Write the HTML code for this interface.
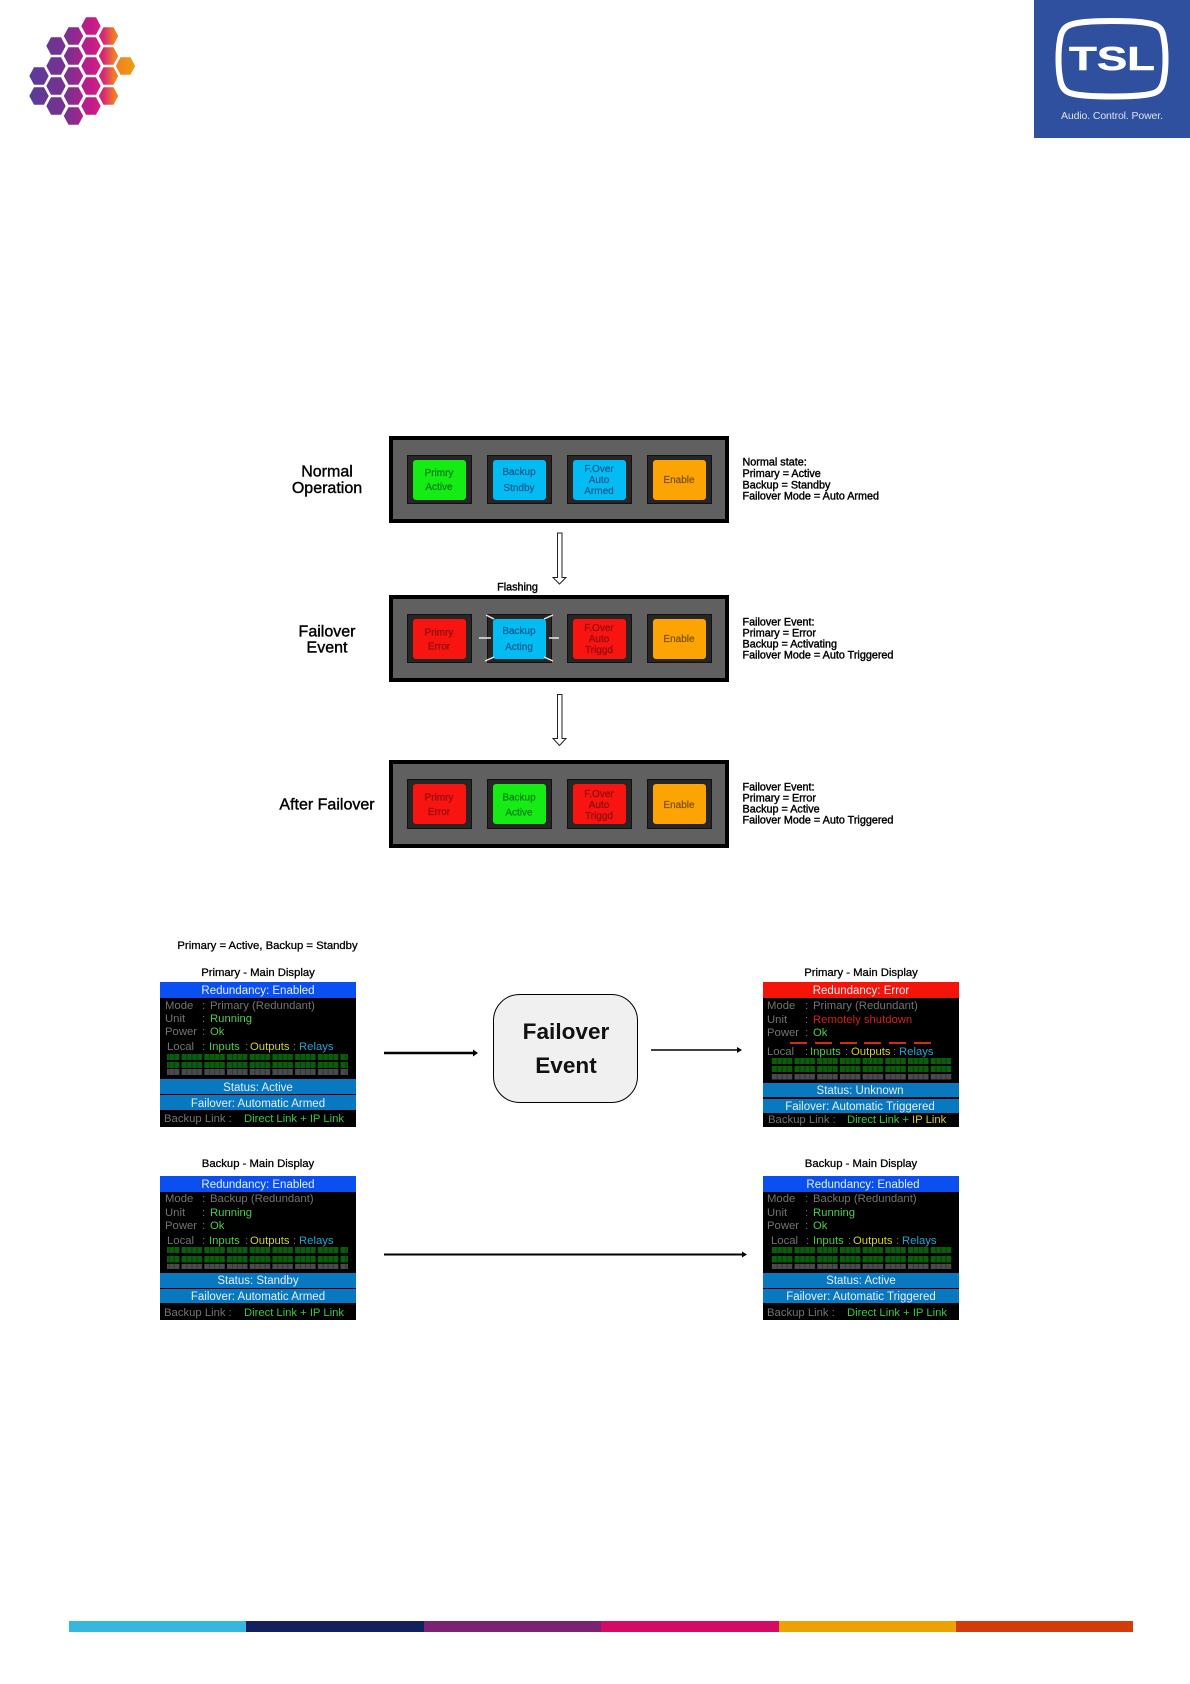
<!DOCTYPE html>
<html lang="en">
<head>
<meta charset="utf-8">
<title>Failover Diagram</title>
<style>
html,body{margin:0;padding:0;background:#fff;width:1190px;height:1684px;overflow:hidden}
svg{display:block;filter:blur(.35px)}
text{font-family:"Liberation Sans",Arial,sans-serif}
.lbl{font-size:16px;fill:#000;stroke:#000;stroke-width:.4px;text-anchor:middle}
.note{font-size:10.8px;fill:#000;stroke:#000;stroke-width:.4px}
.ttl{font-size:11.3px;fill:#000;stroke:#000;stroke-width:.3px;text-anchor:middle}
.b{font-size:10px;text-anchor:middle;stroke-width:.2px}
.bg{fill:#087a16;stroke:#087a16}.bb{fill:#10588a;stroke:#10588a}.br{fill:#8c0e0e;stroke:#8c0e0e}.bo{fill:#7c5008;stroke:#7c5008}
.d{font-size:11.3px}
.g{fill:#747474}.v{fill:#4ccc4c}.y{fill:#d0d028}.c{fill:#28a4d0}.r{fill:#d02020}
.w{fill:#e6eef8;text-anchor:middle;font-size:11.5px}
</style>
</head>
<body>
<svg width="1190" height="1684" viewBox="0 0 1190 1684" xmlns="http://www.w3.org/2000/svg">
<defs>
<linearGradient id="hx" gradientUnits="userSpaceOnUse" x1="30" y1="0" x2="135" y2="0">
<stop offset="0" stop-color="#5a3c9a"/><stop offset=".35" stop-color="#7a3090"/><stop offset=".6" stop-color="#c81a88"/><stop offset=".7" stop-color="#d42a78"/><stop offset=".8" stop-color="#f07a28"/><stop offset="1" stop-color="#eca010"/>
</linearGradient>
<polygon id="h" points="-9.7,0 -5,-8.8 5,-8.8 9.7,0 5,8.8 -5,8.8"/>
<clipPath id="hc">
<use href="#h" x="91" y="26"/><use href="#h" x="73.5" y="36"/><use href="#h" x="108.5" y="36"/>
<use href="#h" x="56" y="46"/><use href="#h" x="91" y="46"/><use href="#h" x="73.5" y="56"/>
<use href="#h" x="108.5" y="56"/><use href="#h" x="125.5" y="66"/><use href="#h" x="56" y="66"/>
<use href="#h" x="91" y="66"/><use href="#h" x="73.5" y="76"/><use href="#h" x="108.5" y="76"/>
<use href="#h" x="39" y="76"/><use href="#h" x="56" y="86"/><use href="#h" x="91" y="86"/>
<use href="#h" x="39" y="96"/><use href="#h" x="73.5" y="96"/><use href="#h" x="108.5" y="96"/>
<use href="#h" x="56" y="106"/><use href="#h" x="91" y="106"/><use href="#h" x="73.5" y="116"/>
</clipPath>
<pattern id="ledG" patternUnits="userSpaceOnUse" width="22.7" height="6">
<rect width="20.5" height="6" fill="#0b5c0b"/>
<rect x="5" width=".7" height="6" fill="#043004"/><rect x="10" width=".7" height="6" fill="#043004"/><rect x="15" width=".7" height="6" fill="#043004"/>
</pattern>
<pattern id="ledK" patternUnits="userSpaceOnUse" width="22.7" height="6">
<rect width="20.5" height="6" fill="#4a4a4a"/>
<rect x="5" width=".7" height="6" fill="#2a2a2a"/><rect x="10" width=".7" height="6" fill="#2a2a2a"/><rect x="15" width=".7" height="6" fill="#2a2a2a"/>
</pattern>
</defs>

<!-- hex logo -->
<rect x="25" y="10" width="115" height="120" fill="url(#hx)" clip-path="url(#hc)"/>

<!-- TSL logo -->
<rect x="1034" y="0" width="156" height="138" fill="#2f4f9f"/>
<path d="M1112,21 C1130,21 1148,22 1155,25 C1161,27 1163,32 1164,40 C1166,50 1166,68 1164,78 C1163,86 1160,91 1154,93 C1145,96 1130,96.5 1112,96.5 C1094,96.5 1079,96 1070,93 C1064,91 1061,86 1060,78 C1058,68 1058,50 1060,40 C1061,32 1064,27 1070,25 C1077,22 1094,21 1112,21 Z" fill="none" stroke="#fff" stroke-width="6"/>
<text x="1069" y="70" font-size="33" font-weight="bold" fill="#fff" stroke="#fff" stroke-width=".5" textLength="86" lengthAdjust="spacingAndGlyphs">TSL</text>
<text x="1112" y="119" font-size="10.5" fill="#dde2ee" text-anchor="middle" textLength="102">Audio. Control. Power.</text>

<!-- left labels -->
<text class="lbl" x="327" y="476.5">Normal</text>
<text class="lbl" x="327" y="493">Operation</text>
<text class="lbl" x="327" y="636.5">Failover</text>
<text class="lbl" x="327" y="652.5">Event</text>
<text class="lbl" x="327" y="809.5">After Failover</text>

<!-- panels -->
<g fill="#606060" stroke="#000" stroke-width="4">
<rect x="391" y="438" width="336" height="83"/>
<rect x="391" y="597" width="336" height="83"/>
<rect x="391" y="762" width="336" height="84"/>
</g>

<g fill="#262626" stroke="#111" stroke-width="1">
<rect x="407.5" y="455.5" width="64" height="48"/><rect x="487.5" y="455.5" width="64" height="48"/>
<rect x="567.5" y="455.5" width="64" height="48"/><rect x="647.5" y="455.5" width="64" height="48"/>
<rect x="407.5" y="614.5" width="64" height="48"/><rect x="487.5" y="614.5" width="64" height="48"/>
<rect x="567.5" y="614.5" width="64" height="48"/><rect x="647.5" y="614.5" width="64" height="48"/>
<rect x="407.5" y="779.5" width="64" height="49"/><rect x="487.5" y="779.5" width="64" height="49"/>
<rect x="567.5" y="779.5" width="64" height="49"/><rect x="647.5" y="779.5" width="64" height="49"/>
</g>

<!-- Panel 1 -->
<rect x="413" y="460" width="53" height="40" rx="3" fill="#14ec14"/>
<rect x="493" y="460" width="53" height="40" rx="3" fill="#04bcf4"/>
<rect x="573" y="460" width="53" height="40" rx="3" fill="#04bcf4"/>
<rect x="653" y="460" width="53" height="40" rx="3" fill="#fca404"/>
<text class="b bg" x="439" y="476">Primry</text><text class="b bg" x="439" y="490">Active</text>
<text class="b bb" x="519" y="475">Backup</text><text class="b bb" x="519" y="491">Stndby</text>
<text class="b bb" x="599" y="472">F.Over</text><text class="b bb" x="599" y="483">Auto</text><text class="b bb" x="599" y="494">Armed</text>
<text class="b bo" x="679" y="483">Enable</text>

<!-- Panel 2 -->
<rect x="413" y="619" width="53" height="40" rx="3" fill="#f81410"/>
<rect x="493" y="619" width="53" height="40" rx="3" fill="#04bcf4"/>
<rect x="573" y="619" width="53" height="40" rx="3" fill="#f81410"/>
<rect x="653" y="619" width="53" height="40" rx="3" fill="#fca404"/>
<text class="b br" x="439" y="635.5">Primry</text><text class="b br" x="439" y="649.5">Error</text>
<text class="b bb" x="519" y="634">Backup</text><text class="b bb" x="519" y="650">Acting</text>
<text class="b br" x="599" y="631">F.Over</text><text class="b br" x="599" y="642">Auto</text><text class="b br" x="599" y="653">Triggd</text>
<text class="b bo" x="679" y="642">Enable</text>
<g stroke="#e8e8e8" stroke-width="1.5">
<line x1="486" y1="615" x2="494" y2="619"/><line x1="544" y1="619" x2="553" y2="615"/>
<line x1="485" y1="661" x2="494" y2="657"/><line x1="544" y1="657" x2="553" y2="661"/>
<line x1="479" y1="638" x2="491" y2="638"/><line x1="549" y1="638" x2="559" y2="638"/>
</g>

<!-- Panel 3 -->
<rect x="413" y="784" width="53" height="40" rx="3" fill="#f81410"/>
<rect x="493" y="784" width="53" height="40" rx="3" fill="#14ec14"/>
<rect x="573" y="784" width="53" height="40" rx="3" fill="#f81410"/>
<rect x="653" y="784" width="53" height="40" rx="3" fill="#fca404"/>
<text class="b br" x="439" y="800.5">Primry</text><text class="b br" x="439" y="815">Error</text>
<text class="b bg" x="519" y="800.5">Backup</text><text class="b bg" x="519" y="815.5">Active</text>
<text class="b br" x="599" y="797">F.Over</text><text class="b br" x="599" y="808">Auto</text><text class="b br" x="599" y="819">Triggd</text>
<text class="b bo" x="679" y="808">Enable</text>

<!-- hollow arrows -->
<path d="M557.5,533 H562 V577.5 H566 L559.5,584 L553,577.5 H557.5 Z" fill="#fff" stroke="#222" stroke-width="1"/>
<path d="M557.5,694.5 H562 V738.5 H566 L559.5,745.5 L553,738.5 H557.5 Z" fill="#fff" stroke="#222" stroke-width="1"/>

<text class="note" x="517.5" y="590.5" text-anchor="middle">Flashing</text>

<!-- notes -->
<text class="note" x="742.5" y="465.5">Normal state:</text>
<text class="note" x="742.5" y="477">Primary = Active</text>
<text class="note" x="742.5" y="488.5">Backup = Standby</text>
<text class="note" x="742.5" y="499.5">Failover Mode = Auto Armed</text>
<text class="note" x="742.5" y="625.5">Failover Event:</text>
<text class="note" x="742.5" y="636.5">Primary = Error</text>
<text class="note" x="742.5" y="647.5">Backup = Activating</text>
<text class="note" x="742.5" y="658.5">Failover Mode = Auto Triggered</text>
<text class="note" x="742.5" y="790.5">Failover Event:</text>
<text class="note" x="742.5" y="801.5">Primary = Error</text>
<text class="note" x="742.5" y="812.5">Backup = Active</text>
<text class="note" x="742.5" y="823.5">Failover Mode = Auto Triggered</text>

<!-- Titles -->
<text class="ttl" x="267.5" y="949">Primary = Active, Backup = Standby</text>
<text class="ttl" x="258" y="976">Primary - Main Display</text>
<text class="ttl" x="861" y="976">Primary - Main Display</text>
<text class="ttl" x="258" y="1167">Backup - Main Display</text>
<text class="ttl" x="861" y="1167">Backup - Main Display</text>

<!-- Display A -->
<rect x="160" y="982" width="196" height="145" fill="#000"/>
<rect x="160" y="982" width="196" height="16" fill="#0a50f0"/>
<text class="w" x="258" y="994">Redundancy: Enabled</text>
<text class="d g" x="165" y="1009">Mode</text><text class="d g" x="202" y="1009">:</text><text class="d g" x="210" y="1009">Primary (Redundant)</text>
<text class="d g" x="165" y="1022">Unit</text><text class="d g" x="202" y="1022">:</text><text class="d v" x="210" y="1022">Running</text>
<text class="d g" x="165" y="1035">Power</text><text class="d g" x="202" y="1035">:</text><text class="d v" x="210" y="1035">Ok</text>
<text class="d g" x="167" y="1050">Local</text><text class="d g" x="202" y="1050">:</text><text class="d v" x="209" y="1050">Inputs</text><text class="d g" x="245" y="1050">:</text><text class="d y" x="250" y="1050">Outputs</text><text class="d g" x="293" y="1050">:</text><text class="d c" x="299" y="1050">Relays</text>
<rect x="167" y="1054" width="181" height="6" fill="url(#ledG)"/>
<rect x="167" y="1062" width="181" height="6" fill="url(#ledG)"/>
<rect x="167" y="1069" width="181" height="6" fill="url(#ledK)"/>
<rect x="160" y="1079" width="196" height="15" fill="#0878c0"/>
<rect x="160" y="1095" width="196" height="15" fill="#0878c0"/>
<text class="w" x="258" y="1091">Status: Active</text>
<text class="w" x="258" y="1107">Failover: Automatic Armed</text>
<text class="d g" x="164" y="1122">Backup Link :</text><text class="d" fill="#38c848" x="244" y="1122" textLength="100">Direct Link + IP Link</text>

<!-- Display B -->
<rect x="763" y="982" width="196" height="145" fill="#000"/>
<rect x="763" y="982" width="196" height="16" fill="#f41408"/>
<text class="w" x="861" y="994">Redundancy: Error</text>
<text class="d g" x="767" y="1009">Mode</text><text class="d g" x="805" y="1009">:</text><text class="d g" x="813" y="1009">Primary (Redundant)</text>
<text class="d g" x="767" y="1023">Unit</text><text class="d g" x="805" y="1023">:</text><text class="d r" x="813" y="1023">Remotely shutdown</text>
<text class="d g" x="767" y="1036">Power</text><text class="d g" x="805" y="1036">:</text><text class="d v" x="813" y="1036">Ok</text>
<g fill="#d82a10">
<rect x="790" y="1042" width="17" height="2"/><rect x="815" y="1042" width="17" height="2"/><rect x="840" y="1042" width="17" height="2"/>
<rect x="864" y="1042" width="17" height="2"/><rect x="889" y="1042" width="17" height="2"/><rect x="914" y="1042" width="17" height="2"/>
</g>
<text class="d g" x="767" y="1055">Local</text><text class="d g" x="805" y="1055">:</text><text class="d v" x="810" y="1055">Inputs</text><text class="d g" x="845" y="1055">:</text><text class="d y" x="851" y="1055">Outputs</text><text class="d g" x="893" y="1055">:</text><text class="d c" x="899" y="1055">Relays</text>
<rect x="771" y="1058" width="181" height="6" fill="url(#ledG)"/>
<rect x="771" y="1066" width="181" height="6" fill="url(#ledG)"/>
<rect x="771" y="1074" width="181" height="5.5" fill="url(#ledK)"/>
<rect x="763" y="1083" width="196" height="14" fill="#0878c0"/>
<rect x="763" y="1099" width="196" height="14" fill="#0878c0"/>
<text class="w" x="860" y="1094">Status: Unknown</text>
<text class="w" x="860" y="1110">Failover: Automatic Triggered</text>
<text class="d g" x="768" y="1123">Backup Link :</text><text class="d" fill="#38c848" x="847" y="1123" textLength="62">Direct Link +</text><text class="d y" x="912" y="1123">IP Link</text>

<!-- Display C -->
<rect x="160" y="1176" width="196" height="144" fill="#000"/>
<rect x="160" y="1176" width="196" height="16" fill="#0a50f0"/>
<text class="w" x="258" y="1188">Redundancy: Enabled</text>
<text class="d g" x="165" y="1202">Mode</text><text class="d g" x="202" y="1202">:</text><text class="d g" x="210" y="1202">Backup (Redundant)</text>
<text class="d g" x="165" y="1216">Unit</text><text class="d g" x="202" y="1216">:</text><text class="d v" x="210" y="1216">Running</text>
<text class="d g" x="165" y="1229">Power</text><text class="d g" x="202" y="1229">:</text><text class="d v" x="210" y="1229">Ok</text>
<text class="d g" x="167" y="1244">Local</text><text class="d g" x="202" y="1244">:</text><text class="d v" x="209" y="1244">Inputs</text><text class="d g" x="245" y="1244">:</text><text class="d y" x="250" y="1244">Outputs</text><text class="d g" x="293" y="1244">:</text><text class="d c" x="299" y="1244">Relays</text>
<rect x="167" y="1247" width="181" height="6" fill="url(#ledG)"/>
<rect x="167" y="1256" width="181" height="6.5" fill="url(#ledG)"/>
<rect x="167" y="1264" width="181" height="5" fill="url(#ledK)"/>
<rect x="160" y="1273" width="196" height="15" fill="#0878c0"/>
<rect x="160" y="1289" width="196" height="14" fill="#0878c0"/>
<text class="w" x="258" y="1284">Status: Standby</text>
<text class="w" x="258" y="1300">Failover: Automatic Armed</text>
<text class="d g" x="164" y="1316">Backup Link :</text><text class="d" fill="#38c848" x="244" y="1316" textLength="100">Direct Link + IP Link</text>

<!-- Display D -->
<rect x="763" y="1176" width="196" height="144" fill="#000"/>
<rect x="763" y="1176" width="196" height="16" fill="#0a50f0"/>
<text class="w" x="863" y="1188">Redundancy: Enabled</text>
<text class="d g" x="767" y="1202">Mode</text><text class="d g" x="805" y="1202">:</text><text class="d g" x="813" y="1202">Backup (Redundant)</text>
<text class="d g" x="767" y="1216">Unit</text><text class="d g" x="805" y="1216">:</text><text class="d v" x="813" y="1216">Running</text>
<text class="d g" x="767" y="1229">Power</text><text class="d g" x="805" y="1229">:</text><text class="d v" x="813" y="1229">Ok</text>
<text class="d g" x="771" y="1244">Local</text><text class="d g" x="806" y="1244">:</text><text class="d v" x="813" y="1244">Inputs</text><text class="d g" x="848" y="1244">:</text><text class="d y" x="853" y="1244">Outputs</text><text class="d g" x="896" y="1244">:</text><text class="d c" x="902" y="1244">Relays</text>
<rect x="771" y="1247" width="181" height="6" fill="url(#ledG)"/>
<rect x="771" y="1256" width="181" height="6.5" fill="url(#ledG)"/>
<rect x="771" y="1264" width="181" height="5" fill="url(#ledK)"/>
<rect x="763" y="1273" width="196" height="15" fill="#0878c0"/>
<rect x="763" y="1289" width="196" height="14" fill="#0878c0"/>
<text class="w" x="861" y="1284">Status: Active</text>
<text class="w" x="861" y="1300">Failover: Automatic Triggered</text>
<text class="d g" x="767" y="1316">Backup Link :</text><text class="d" fill="#38c848" x="847" y="1316" textLength="100">Direct Link + IP Link</text>

<!-- Failover Event box -->
<rect x="493.5" y="994.5" width="144" height="108" rx="26" fill="#f0f0f0" stroke="#000" stroke-width="1"/>
<text x="566" y="1039" font-size="22.6" font-weight="bold" fill="#111" text-anchor="middle">Failover</text>
<text x="566" y="1073" font-size="22.6" font-weight="bold" fill="#111" text-anchor="middle">Event</text>

<!-- arrows -->
<line x1="384" y1="1053" x2="474" y2="1053" stroke="#000" stroke-width="2.5"/>
<polygon points="473,1049.5 478,1053 473,1056.5" fill="#000"/>
<line x1="651" y1="1050" x2="738" y2="1050" stroke="#000" stroke-width="1.5"/>
<polygon points="737,1047 742,1050 737,1053" fill="#000"/>
<line x1="384" y1="1254.5" x2="743" y2="1254.5" stroke="#000" stroke-width="2"/>
<polygon points="742,1251.5 747,1254.5 742,1257.5" fill="#000"/>

<!-- bottom bar -->
<rect x="69" y="1621" width="177" height="11" fill="#35b8dc"/>
<rect x="246" y="1621" width="178" height="11" fill="#14205e"/>
<rect x="424" y="1621" width="177" height="11" fill="#7c2274"/>
<rect x="601" y="1621" width="178" height="11" fill="#d40a64"/>
<rect x="779" y="1621" width="177" height="11" fill="#eca204"/>
<rect x="956" y="1621" width="177" height="11" fill="#d23c0a"/>
</svg>
</body>
</html>
